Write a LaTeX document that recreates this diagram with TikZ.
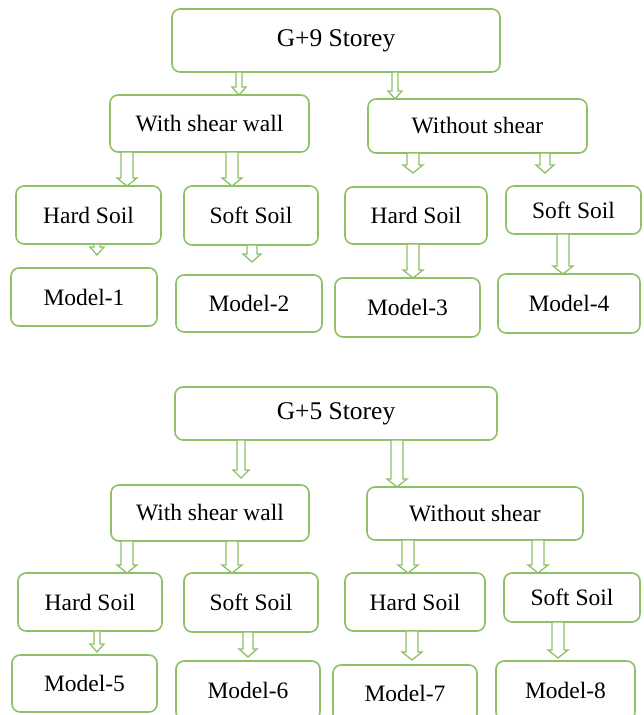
\documentclass[tikz,border=0pt]{standalone}
\usepackage{fontspec}
\setmainfont{Liberation Serif}
\usetikzlibrary{calc}
\definecolor{boxgreen}{HTML}{8CC168}
\tikzset{
  flowbox/.style={draw=boxgreen, line width=1.6pt, rounded corners=8pt,
    fill=white, inner sep=0pt, outer sep=0pt},
  arrowline/.style={draw=boxgreen, line width=1.3pt, fill=white}
}
\newcommand{\hollowarrow}[4][5]{%
  \draw[arrowline] let \p1=(#2,0 |- #3), \p2=(#2,0 |- #4) in
    (\x1-#1pt,\y1) -- (\x1-#1pt,\y2+8pt) -- (\x1-#1pt-4pt,\y2+8pt)
    -- (\x2,\y2) -- (\x1+#1pt+4pt,\y2+8pt) -- (\x1+#1pt,\y2+8pt)
    -- (\x1+#1pt,\y1) -- cycle;}
\newcommand{\bigger}{\fontsize{25.5}{30}\selectfont}

\begin{document}
\begin{tikzpicture}[x=1pt, y=-1pt, font=\fontsize{23.5}{28}\selectfont]
  \useasboundingbox (0,0) rectangle (643,715);
  \clip (0,0) rectangle (643,715);
  \foreach \name/\xa/\ya/\xb/\yb/\lab in
    {top9/172/9/500/72/{\bigger G+9 Storey},
     ws9/110/95/309/152/{With shear wall}, wo9/368/99/587/153/{Without shear},
     hs9a/16/186/161/244/{Hard Soil}, ss9a/184/186/318/245/{Soft Soil},
     hs9b/345/187/487/244/{Hard Soil}, ss9b/506/186/641/234/{Soft Soil},
     m1/11/268/157/326/{Model-1}, m2/176/275/322/332/{Model-2},
     m3/335/278/480/337/{Model-3}, m4/498/274/640/333/{Model-4},
     top5/175/387/497/440/{\bigger G+5 Storey},
     ws5/111/485/309/541/{With shear wall}, wo5/367/487/583/540/{Without shear},
     hs5a/18/573/162/631/{Hard Soil}, ss5a/184/573/318/632/{Soft Soil},
     hs5b/345/573/485/631/{Hard Soil}, ss5b/504/573/640/622/{Soft Soil},
     m5/12/655/157/712/{Model-5}, m6/176/661/320/720/{Model-6},
     m7/333/665/477/722/{Model-7}, m8/496/661/635/720/{Model-8}}{%
    \node[flowbox, minimum width=(\xb-\xa)*1pt, minimum height=(\yb-\ya)*1pt]
      (\name) at ({(\xa+\xb)/2},{(\ya+\yb)/2}) {\lab};}
  % free ends of the arrows that stop short of a box
  \foreach \name/\xpos/\ypos in {e9a/413/173, e9b/545/173, e9c/97/255,
      e9d/252/262, e5a/241/478, e5b/97/652, e5c/248/657, e5d/412/660,
      e5e/558/658}{%
    \coordinate (\name) at (\xpos,\ypos);}
  \foreach \xpos/\from/\to/\hw in
    {239/top9.south/ws9.north/3, 395/top9.south/wo9.north/3,
     127/ws9.south/hs9a.north/6, 232/ws9.south/ss9a.north/6,
     413/wo9.south/e9a/6, 545/wo9.south/e9b/5,
     97/hs9a.south/e9c/3, 252/ss9a.south/e9d/5,
     413/hs9b.south/m3.north/6, 563/ss9b.south/m4.north/6,
     241/top5.south/e5a/4, 397/top5.south/wo5.north/6,
     127/ws5.south/hs5a.north/6, 232/ws5.south/ss5a.north/6,
     408/wo5.south/hs5b.north/6, 538/wo5.south/ss5b.north/6,
     97/hs5a.south/e5b/3, 248/ss5a.south/e5c/5,
     412/hs5b.south/e5d/6, 558/ss5b.south/e5e/6}{%
    \hollowarrow[\hw]{\xpos}{\from}{\to}}
\end{tikzpicture}
\end{document}
